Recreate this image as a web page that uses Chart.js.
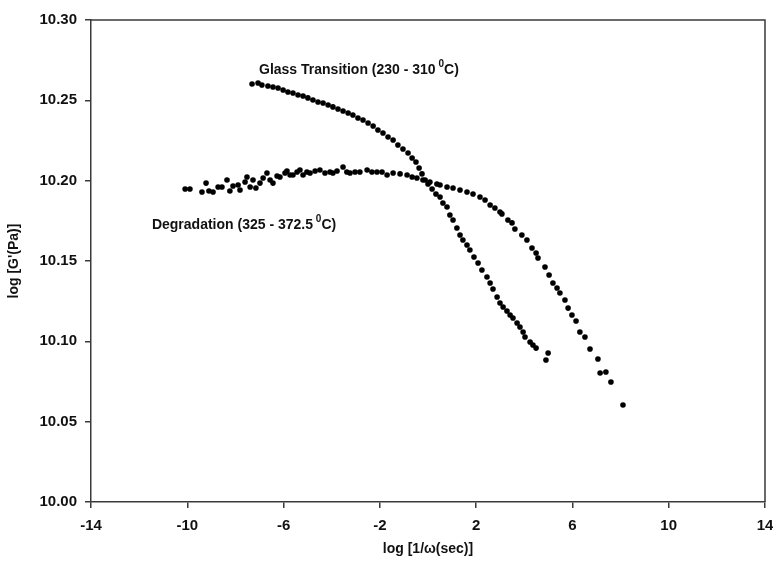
<!DOCTYPE html>
<html lang="en">
<head>
  <meta charset="UTF-8">
  <title>log G' vs log 1/ω</title>
  <script src="https://cdn.jsdelivr.net/npm/chart.js@4"></script>
  <style>
    html, body { margin: 0; padding: 0; background: #fff; }
  </style>
</head>
<body>
  <canvas id="myChart" width="773" height="565"></canvas>

  <script>
    // tick values
    const xTicks = [-14, -10, -6, -2, 2, 6, 10, 14];
    const yTicks = [10.00, 10.05, 10.10, 10.15, 10.20, 10.25, 10.30];

    // Glass Transition (230 - 310 °C)
    const glassX = [-7.31, -7.06, -6.90, -6.65, -6.44, -6.23, -6.02, -5.82, -5.61, -5.40,
      -5.19, -4.99, -4.78, -4.57, -4.36, -4.15, -3.95, -3.74, -3.53, -3.32,
      -3.12, -2.91, -2.70, -2.49, -2.28, -2.08, -1.87, -1.66, -1.45, -1.25,
      -1.04, -0.83, -0.66, -0.50, -0.37, -0.25, -0.12, 0.00, 0.17, 0.33,
      0.50, 0.62, 0.79, 0.91, 1.04, 1.20, 1.33, 1.45, 1.62, 1.74,
      1.91, 2.08, 2.24, 2.45, 2.58, 2.70, 2.87, 2.99, 3.12, 3.28,
      3.41, 3.53, 3.70, 3.82, 3.95, 4.03, 4.24, 4.36, 4.49, 4.99, 4.90];
    const glassY = [10.2602, 10.2608, 10.2595, 10.2589, 10.2583, 10.2577, 10.2564, 10.2552, 10.2546, 10.2533,
      10.2527, 10.2515, 10.2502, 10.2490, 10.2483, 10.2471, 10.2459, 10.2446, 10.2434, 10.2421,
      10.2409, 10.2390, 10.2378, 10.2359, 10.2340, 10.2315, 10.2297, 10.2272, 10.2253, 10.2222,
      10.2197, 10.2172, 10.2141, 10.2116, 10.2079, 10.2042, 10.2004, 10.1979, 10.1948, 10.1917,
      10.1898, 10.1861, 10.1836, 10.1786, 10.1755, 10.1705, 10.1662, 10.1631, 10.1600, 10.1568,
      10.1525, 10.1488, 10.1444, 10.1400, 10.1363, 10.1326, 10.1276, 10.1239, 10.1214, 10.1189,
      10.1164, 10.1145, 10.1114, 10.1089, 10.1058, 10.1027, 10.0996, 10.0977, 10.0958, 10.0927, 10.0884];

    // Degradation (325 - 372.5 °C)
    const degX = [-10.09, -9.89, -9.39, -9.22, -9.10, -8.93, -8.72, -8.56, -8.35, -8.23,
      -8.10, -7.89, -7.81, -7.60, -7.52, -7.39, -7.27, -7.15, -6.98, -6.85,
      -6.69, -6.56, -6.44, -6.27, -6.15, -5.94, -5.86, -5.73, -5.61, -5.44,
      -5.32, -5.19, -5.03, -4.90, -4.69, -4.49, -4.28, -4.07, -3.95, -3.78,
      -3.53, -3.37, -3.24, -3.03, -2.83, -2.53, -2.33, -2.12, -1.91, -1.70,
      -1.45, -1.16, -0.87, -0.66, -0.46, -0.21, 0.08, 0.37, 0.50, 0.79,
      1.04, 1.33, 1.62, 1.87, 2.16, 2.37, 2.58, 2.78, 2.99, 3.07,
      3.32, 3.49, 3.61, 3.90, 4.11, 4.32, 4.49, 4.57, 4.86, 5.03,
      5.19, 5.36, 5.48, 5.69, 5.82, 5.98, 6.15, 6.31, 6.52, 6.73,
      7.06, 7.15, 7.39, 7.60, 8.10];
    const degY = [10.1948, 10.1948, 10.1929, 10.1985, 10.1936, 10.1929, 10.1961, 10.1961, 10.2004, 10.1936,
      10.1967, 10.1973, 10.1942, 10.1992, 10.2023, 10.1961, 10.2004, 10.1954, 10.1985, 10.2017,
      10.2048, 10.2004, 10.1985, 10.2029, 10.2023, 10.2048, 10.2060, 10.2035, 10.2035, 10.2054,
      10.2066, 10.2035, 10.2054, 10.2048, 10.2060, 10.2066, 10.2048, 10.2054, 10.2048, 10.2060,
      10.2085, 10.2054, 10.2048, 10.2054, 10.2054, 10.2066, 10.2054, 10.2054, 10.2054, 10.2035,
      10.2048, 10.2042, 10.2035, 10.2023, 10.2017, 10.2004, 10.1992, 10.1979, 10.1973, 10.1961,
      10.1954, 10.1942, 10.1929, 10.1917, 10.1898, 10.1880, 10.1849, 10.1830, 10.1805, 10.1793,
      10.1755, 10.1737, 10.1699, 10.1662, 10.1631, 10.1581, 10.1550, 10.1519, 10.1463, 10.1413,
      10.1363, 10.1332, 10.1301, 10.1257, 10.1207, 10.1164, 10.1127, 10.1058, 10.1027, 10.0952,
      10.0890, 10.0803, 10.0809, 10.0747, 10.0604];

    const FONT = "'Liberation Sans', Arial, sans-serif";
    const AXIS = '#3a3a3a';

    function toPoints(xs, ys) {
      return xs.map((x, i) => ({ x: x, y: ys[i] }));
    }

    // white background + top/right frame + curve labels
    const extras = {
      id: 'extras',
      beforeDraw(chart) {
        const c = chart.ctx;
        c.save();
        c.fillStyle = '#fff';
        c.fillRect(0, 0, chart.width, chart.height);
        c.restore();
      },
      afterDraw(chart) {
        const c = chart.ctx;
        const a = chart.chartArea;
        const sx = chart.scales.x, sy = chart.scales.y;
        c.save();
        c.strokeStyle = AXIS;
        c.lineWidth = 1.5;
        c.beginPath();
        c.moveTo(a.left, a.top);
        c.lineTo(a.right, a.top);
        c.lineTo(a.right, a.bottom);
        c.stroke();

        const notes = [
          { head: 'Glass Transition (230 - 310 ', tail: 'C)', x: -7.02, y: 10.2689 },
          { head: 'Degradation (325 - 372.5 ', tail: 'C)', x: -11.47, y: 10.1724 }
        ];
        c.fillStyle = '#111';
        c.textBaseline = 'middle';
        notes.forEach(n => {
          let px = sx.getPixelForValue(n.x);
          const py = sy.getPixelForValue(n.y);
          c.font = 'bold 14px ' + FONT;
          c.fillText(n.head, px, py);
          px += c.measureText(n.head).width - 1;
          c.font = 'bold 10px ' + FONT;
          c.fillText('0', px, py - 6);
          px += c.measureText('0').width;
          c.font = 'bold 14px ' + FONT;
          c.fillText(n.tail, px, py);
        });
        c.restore();
      }
    };

    const pointStyle = {
      pointRadius: 2.8,
      pointHoverRadius: 2.8,
      pointBackgroundColor: '#000',
      pointBorderWidth: 0,
      showLine: false
    };

    const chart = new Chart(document.getElementById('myChart'), {
      type: 'scatter',
      data: {
        datasets: [
          Object.assign({ label: 'Glass Transition (230 - 310 °C)', data: toPoints(glassX, glassY) }, pointStyle),
          Object.assign({ label: 'Degradation (325 - 372.5 °C)', data: toPoints(degX, degY) }, pointStyle)
        ]
      },
      options: {
        responsive: false,
        animation: false,
        devicePixelRatio: 1,
        layout: { padding: { top: 20, right: 8, left: 0, bottom: 0 } },
        plugins: { legend: { display: false }, tooltip: { enabled: false } },
        scales: {
          x: {
            type: 'linear',
            min: -14,
            max: 14,
            afterBuildTicks: s => { s.ticks = xTicks.map(v => ({ value: v })); },
            afterFit: s => { s.height = 63; s.paddingLeft = 0; s.paddingRight = 0; },
            grid: { drawOnChartArea: false, drawTicks: true, tickLength: 6, color: AXIS, lineWidth: 1.5 },
            border: { color: AXIS, width: 1.5 },
            ticks: { color: '#111', padding: 9, maxRotation: 0, font: { family: FONT, size: 15, weight: 'bold' } },
            title: {
              display: true,
              text: 'log [1/ω(sec)]',
              color: '#111',
              padding: { top: 0, bottom: 7 },
              font: { family: FONT, size: 14, weight: 'bold' }
            }
          },
          y: {
            type: 'linear',
            min: 10.0,
            max: 10.3,
            afterBuildTicks: s => { s.ticks = yTicks.map(v => ({ value: v })); },
            afterFit: s => { s.width = 91; s.paddingTop = 0; s.paddingBottom = 0; },
            grid: { drawOnChartArea: false, drawTicks: true, tickLength: 6, color: AXIS, lineWidth: 1.5 },
            border: { color: AXIS, width: 1.5 },
            ticks: {
              color: '#111',
              padding: 8,
              font: { family: FONT, size: 15, weight: 'bold' },
              callback: v => v.toFixed(2)
            },
            title: {
              display: true,
              text: "log [G'(Pa)]",
              color: '#111',
              padding: { top: 6, bottom: 0 },
              font: { family: FONT, size: 14, weight: 'bold' }
            }
          }
        }
      },
      plugins: [extras]
    });
  </script>
</body>
</html>
